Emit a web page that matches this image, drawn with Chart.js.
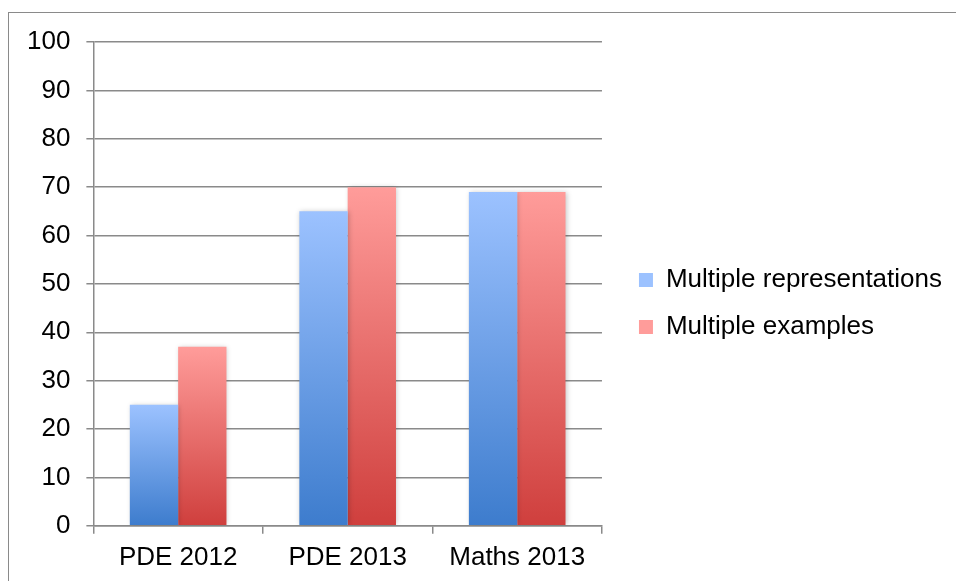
<!DOCTYPE html>
<html>
<head>
<meta charset="utf-8">
<script src="https://cdn.jsdelivr.net/npm/chart.js@4"></script>
<style>
    html, body { margin: 0; padding: 0; background: #fff; overflow: hidden; }
    #wrap { position: relative; width: 956px; height: 581px; }
    #frame { position: absolute; left: 8px; top: 12px; width: 1200px; height: 800px; border: 1px solid #8a8a8a; }
    #chart { position: absolute; left: 0; top: 0; }
</style>
</head>
<body>
<div id="wrap">
    <div id="frame"></div>
    <canvas id="chart" width="956" height="581"></canvas>
</div>
<script>
// Dữ liệu biểu đồ
const categories = ['PDE 2012', 'PDE 2013', 'Maths 2013'];
const seriesNames = ['Multiple representations', 'Multiple examples'];
const representations = [25, 65, 69];
const examples = [37, 70, 69];
const yTicks = [0, 10, 20, 30, 40, 50, 60, 70, 80, 90, 100];

// Gradient theo từng cột (sáng ở trên, đậm ở dưới)
function barGradient(topColor, bottomColor, flatColor) {
    return function (context) {
        const chart = context.chart;
        const y = chart.scales && chart.scales.y;
        if (context.type !== 'data' || !y || context.raw == null) return flatColor;
        const top = y.getPixelForValue(context.raw);
        const base = y.getPixelForValue(0);
        if (!isFinite(top) || !isFinite(base) || top === base) return flatColor;
        const g = chart.ctx.createLinearGradient(0, top, 0, base);
        g.addColorStop(0, topColor);
        g.addColorStop(1, bottomColor);
        return g;
    };
}

// Bóng đổ nhẹ cho các cột
const shadowPlugin = {
    id: 'barShadow',
    beforeDatasetsDraw(chart) {
        const ctx = chart.ctx;
        ctx.save();
        ctx.shadowColor = 'rgba(0, 0, 0, 0.22)';
        ctx.shadowBlur = 5;
        ctx.shadowOffsetX = 1;
        ctx.shadowOffsetY = 0;
    },
    afterDatasetsDraw(chart) {
        chart.ctx.restore();
    }
};

// Đẩy chú thích lên một chút
const legendShift = {
    id: 'legendShift',
    afterLayout(chart) {
        if (chart.legend) {
            chart.legend.top -= 8;
            chart.legend.bottom -= 8;
        }
    }
};

const font = { family: '"Liberation Sans", Arial, sans-serif', size: 26 };

const ctx = document.getElementById('chart').getContext('2d');
const chart = new Chart(ctx, {
    type: 'bar',
    data: {
        labels: categories,
        datasets: [{
            label: seriesNames[0],
            data: representations,
            backgroundColor: barGradient('#9cc2ff', '#3d7ccd', '#6f9fe6'),
            borderWidth: 0,
            categoryPercentage: 0.57,
            barPercentage: 1
        }, {
            label: seriesNames[1],
            data: examples,
            backgroundColor: barGradient('#ff9c9a', '#cf3f3d', '#e86a68'),
            borderWidth: 0,
            categoryPercentage: 0.57,
            barPercentage: 1
        }]
    },
    plugins: [shadowPlugin, legendShift],
    options: {
        responsive: false,
        animation: false,
        layout: {
            padding: { left: 11, top: 42, right: 4, bottom: 0 }
        },
        scales: {
            x: {
                grid: {
                    offset: true,
                    drawOnChartArea: false,
                    color: '#8a8a8a',
                    lineWidth: 1.5,
                    tickLength: 8
                },
                border: { color: '#8a8a8a', width: 1.5 },
                ticks: { color: '#000', font: font, padding: 8, maxRotation: 0 }
            },
            y: {
                min: 0,
                max: 100,
                afterBuildTicks(scale) {
                    scale.ticks = yTicks.map(v => ({ value: v }));
                },
                grid: {
                    color: '#8a8a8a',
                    lineWidth: 1.5,
                    tickLength: 7
                },
                border: { color: '#8a8a8a', width: 1.5 },
                ticks: { color: '#000', font: font, padding: 16 }
            },
            spacer: {
                position: 'right',
                display: true,
                grid: { display: false },
                border: { display: false },
                ticks: { display: false },
                afterFit(scale) { scale.width = 16; }
            }
        },
        plugins: {
            legend: {
                position: 'right',
                align: 'center',
                maxWidth: 400,
                labels: {
                    color: '#000',
                    font: { family: font.family, size: 26 },
                    boxWidth: 14,
                    boxHeight: 14,
                    padding: 21
                }
            },
            tooltip: { enabled: false }
        }
    }
});
</script>
</body>
</html>
